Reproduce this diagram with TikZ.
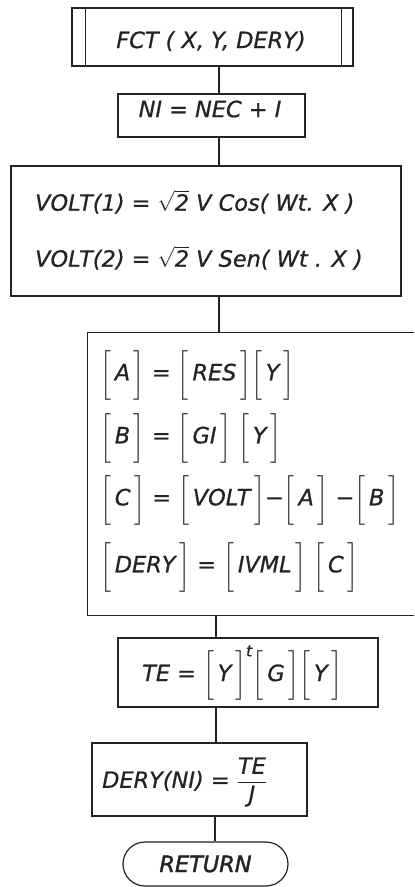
\documentclass[tikz,border=0pt]{standalone}
\usepackage{amsmath}
\usepackage{fontspec}
\setmainfont{DejaVu Sans}[FakeBold=0.7]
\newfontfamily\heavyhand{DejaVu Sans}[FakeBold=1.8]
\usetikzlibrary{shapes.misc}
\newcommand{\mb}[1]{$\left[\rule[-0.55em]{0pt}{1.9em}\text{\,#1\,}\right]$}
\newcommand{\mbt}[1]{$\left[\rule[-0.55em]{0pt}{1.9em}\text{\,#1\,}\right]^{\text{t}}$}
\definecolor{ink}{RGB}{35,35,35}
\tikzset{
  box/.style={draw=ink, line width=1.2bp, rectangle, inner sep=0pt},
  conn/.style={draw=ink, line width=1.2bp},
  txt/.style={inner sep=0pt, text=ink, font=\fontsize{22.5}{25}\selectfont\itshape},
}
\begin{document}
\begin{tikzpicture}[x=1bp,y=-1bp]
\useasboundingbox[fill=white] (0,0) rectangle (414,887);
% box 1: subroutine
\node[box, minimum width=281bp, minimum height=58bp] (b1) at (212.5,37) {};
\draw[conn] ([xshift=14bp]b1.north west) -- ([xshift=14bp]b1.south west);
\draw[conn] ([xshift=-12bp]b1.north east) -- ([xshift=-12bp]b1.south east);
\node[txt] (t1) at (211,41) {FCT ( X, Y, DERY)};
% box 2
\node[box, minimum width=187bp, minimum height=43bp] (b2) at (211.5,115.5) {};
\node[txt] (t2) at (210,109) {NI = NEC + I};
% box 3
\node[box, minimum width=390bp, minimum height=130bp] (b3) at (206,231) {};
\node[txt, anchor=west] (t3a) at (35,202) {VOLT(1) = $\sqrt{\text{2}}$ V Cos( Wt. X )};
\node[txt, anchor=west] (t3b) at (35,258) {VOLT(2) = $\sqrt{\text{2}}$ V Sen( Wt . X )};
% box 4 (open on the right)
\node[minimum width=326bp, minimum height=282bp, inner sep=0pt] (b4) at (251,474) {};
\draw[conn] (b4.north east) -- (b4.north west) -- (b4.south west) -- (b4.south east);
\node[txt, anchor=west] (r1) at (100,375) {\mb{A} = \mb{RES}\mb{Y}};
\node[txt, anchor=west] (r2) at (100,438) {\mb{B} = \mb{GI} \mb{Y}};
\node[txt, anchor=west] (r3) at (100,500) {\mb{C} = \mb{VOLT}−\mb{A} −\mb{B}};
\node[txt, anchor=west] (r4) at (100,567) {\mb{DERY} = \mb{IVML} \mb{C}};
% box 5
\node[box, minimum width=260bp, minimum height=69bp] (b5) at (248,672.5) {};
\node[txt, anchor=west] (t5) at (142,673) {TE = \mbt{Y}\mb{G}\mb{Y}};
% box 6
\node[box, minimum width=215bp, minimum height=73bp] (b6) at (199.5,779.5) {};
\node[txt, anchor=west] (t6) at (102,782) {DERY(NI) = $\dfrac{\text{TE}}{\text{J}}$};
% terminal
\node[box, rounded rectangle, minimum width=165bp, minimum height=44bp, txt, font=\fontsize{22.5}{25}\heavyhand\itshape] (ret) at (205.5,864) {RETURN};
% connectors
\coordinate (xa) at (219,0);
\coordinate (xb) at (216,0);
\coordinate (xc) at (215,0);
\draw[conn] (b1.south -| xa) -- (b2.north -| xa);
\draw[conn] (b2.south -| xa) -- (b3.north -| xa);
\draw[conn] (b3.south -| xa) -- (b4.north -| xa);
\draw[conn] (b4.south -| xb) -- (b5.north -| xb);
\draw[conn] (b5.south -| xb) -- (b6.north -| xb);
\draw[conn] (b6.south -| xc) -- (ret.north -| xc);
\end{tikzpicture}
\end{document}
